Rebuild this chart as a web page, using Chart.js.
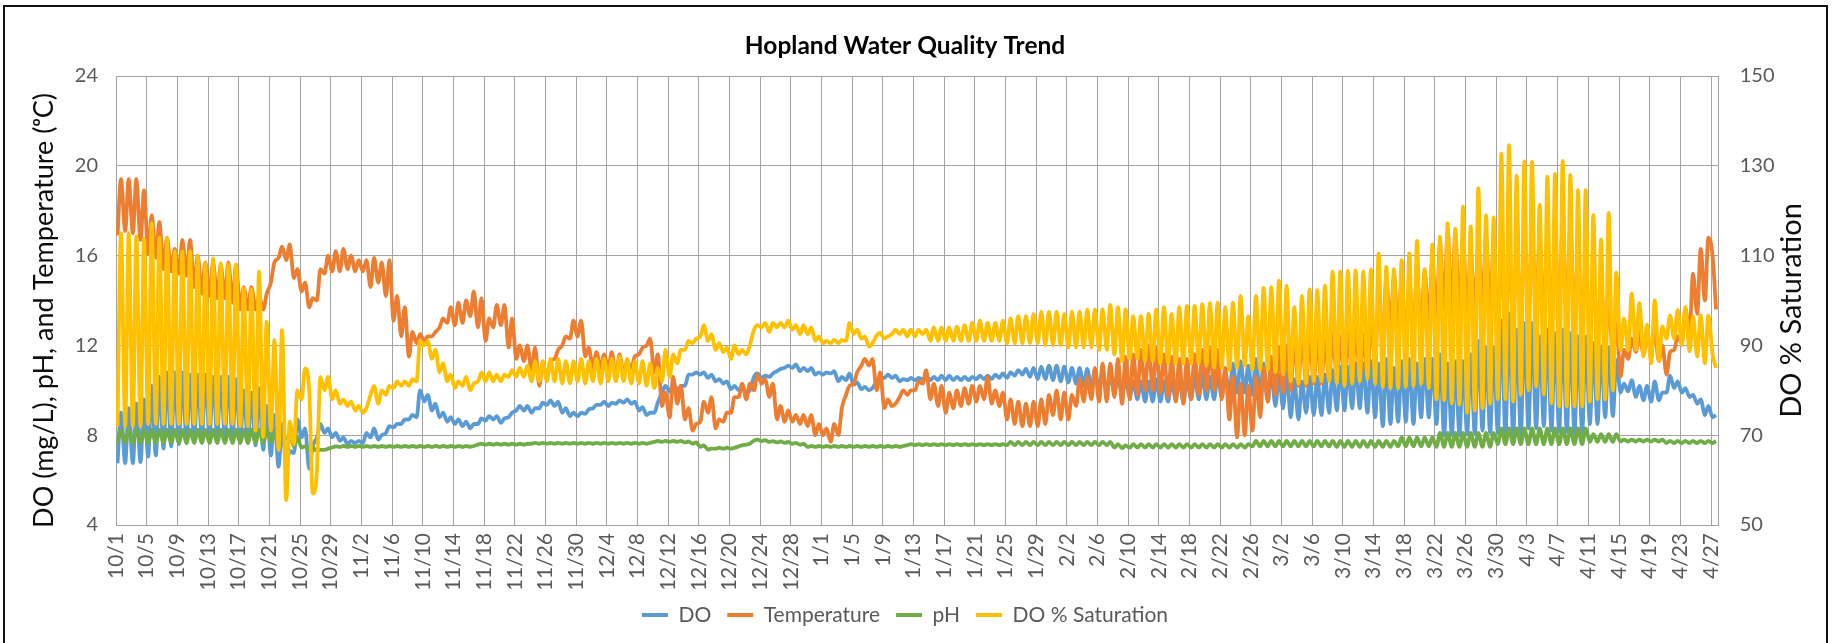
<!DOCTYPE html>
<html>
<head>
<meta charset="utf-8">
<title>Hopland Water Quality Trend</title>
<script src="https://cdn.jsdelivr.net/npm/chart.js@4.4.1/dist/chart.umd.min.js"></script>
<style>
    html, body { margin: 0; padding: 0; background: #fff; overflow: hidden; }
    #wrap { position: relative; width: 1836px; height: 643px; }
    #frame {
        position: absolute; left: 3px; top: 5px; width: 1825px; height: 700px;
        border: 2px solid #111; box-sizing: border-box;
    }
    #chart { position: absolute; left: 0; top: 0; }
</style>
</head>
<body>
<div id="wrap">
    <div id="frame"></div>
    <canvas id="chart" width="1836" height="643"></canvas>
</div>
<script>
    // x axis tick labels, one every 4 days starting 10/1
    const DATE_LABELS = ['10/1','10/5','10/9','10/13','10/17','10/21','10/25','10/29','11/2','11/6',
        '11/10','11/14','11/18','11/22','11/26','11/30','12/4','12/8','12/12','12/16',
        '12/20','12/24','12/28','1/1','1/5','1/9','1/13','1/17','1/21','1/25',
        '1/29','2/2','2/6','2/10','2/14','2/18','2/22','2/26','3/2','3/6',
        '3/10','3/14','3/18','3/22','3/26','3/30','4/3','4/7','4/11','4/15',
        '4/19','4/23','4/27'];

    // daily readings (day 0 = 10/1), early-morning sample and afternoon sample
    const DO_AM = [
        6.75, 6.75, 6.75, 6.8, 7.05, 7.1, 7.4, 7.5, 7.6, 7.65,
        7.75, 7.85, 7.9, 7.9, 7.9, 7.85, 7.8, 7.65, 7.55, 7.35,
        7.1, 6.6, 6.7, 7.2, 7.9, 6.5, 7.9, 8.1, 7.9, 7.75,
        7.6, 7.65, 7.65, 7.9, 7.8, 8.1, 8.35, 8.5, 8.7, 8.8,
        9.5, 9.1, 8.8, 8.6, 8.5, 8.4, 8.3, 8.5, 8.65, 8.7,
        8.55, 8.8, 9.1, 9.1, 9.0, 9.2, 9.35, 9.3, 9.0, 8.85,
        8.85, 8.95, 9.2, 9.35, 9.3, 9.4, 9.45, 9.4, 9.1, 8.9,
        9.0, 9.9, 9.95, 10.0, 10.2, 10.7, 10.7, 10.55, 10.4, 10.3,
        10.05, 10.0, 9.9, 10.6, 10.55, 10.6, 10.85, 11.0, 11.0, 10.85,
        10.85, 10.7, 10.7, 10.75, 10.4, 10.45, 10.25, 10.05, 10.0, 10.4,
        10.55, 10.55, 10.4, 10.45, 10.45, 10.5, 10.45, 10.45, 10.45, 10.45,
        10.45, 10.45, 10.5, 10.5, 10.5, 10.55, 10.55, 10.65, 10.7, 10.6,
        10.5, 10.5, 10.45, 10.4, 10.35, 10.3, 10.2, 10.1, 10.0, 9.9,
        9.85, 9.8, 9.7, 9.6, 9.5, 9.5, 9.5, 9.5, 9.6, 9.5,
        9.6, 9.6, 9.6, 9.6, 9.7, 9.8, 9.9, 9.9, 9.8, 9.7,
        9.5, 9.3, 9.2, 8.8, 8.7, 9.0, 8.9, 8.9, 9.0, 9.1,
        9.1, 9.2, 9.2, 9.0, 8.8, 8.4, 8.5, 8.6, 8.6, 8.5,
        8.8, 8.8, 8.5, 8.0, 8.0, 8.0, 8.05, 8.05, 8.2, 8.1,
        8.1, 8.0, 7.95, 7.95, 8.3, 8.3, 8.4, 8.2, 8.15, 8.15,
        8.1, 8.1, 8.5, 8.5, 8.8, 8.85, 9.9, 9.95, 9.7, 9.55,
        9.5, 9.55, 9.9, 10.1, 9.9, 9.7, 9.4, 8.9, 8.8
    ];
    const DO_PM = [
        9.0, 9.2, 9.4, 9.6, 10.2, 10.6, 10.8, 10.8, 10.8, 10.7,
        10.7, 10.7, 10.6, 10.6, 10.6, 10.5, 10.0, 9.9, 10.1, 9.3,
        8.9, 8.5, 7.3, 8.7, 8.3, 7.5, 8.5, 8.3, 8.1, 7.9,
        7.75, 7.75, 8.1, 8.3, 8.0, 8.4, 8.5, 8.7, 8.9, 10.0,
        9.8, 9.4, 9.0, 8.8, 8.7, 8.6, 8.5, 8.75, 8.85, 8.85,
        8.75, 9.0, 9.3, 9.3, 9.2, 9.45, 9.55, 9.5, 9.2, 9.0,
        9.0, 9.15, 9.35, 9.5, 9.45, 9.55, 9.6, 9.5, 9.25, 9.0,
        9.45, 10.2, 10.3, 10.2, 10.7, 10.8, 10.8, 10.7, 10.5, 10.4,
        10.2, 10.15, 10.0, 10.75, 10.65, 10.75, 10.95, 11.1, 11.15, 11.0,
        11.0, 10.8, 10.8, 10.85, 10.6, 10.75, 10.35, 10.15, 10.1, 10.55,
        10.7, 10.65, 10.5, 10.55, 10.55, 10.6, 10.6, 10.65, 10.65, 10.6,
        10.6, 10.6, 10.65, 10.65, 10.7, 10.75, 10.8, 10.9, 10.95, 11.0,
        11.05, 11.1, 11.1, 11.05, 11.0, 11.0, 10.95, 10.9, 10.8, 10.7,
        10.6, 10.5, 10.4, 10.4, 10.4, 10.5, 10.4, 10.4, 10.5, 10.5,
        10.6, 10.7, 10.6, 10.7, 10.8, 11.2, 11.3, 11.1, 11.4, 11.2,
        10.8, 10.7, 10.8, 10.5, 10.4, 10.6, 10.6, 10.7, 10.9, 11.05,
        11.05, 11.2, 11.2, 11.3, 11.2, 11.4, 11.0, 11.3, 11.4, 11.2,
        11.4, 11.4, 11.6, 11.2, 11.3, 11.3, 11.6, 12.2, 11.9, 11.9,
        13.1, 13.4, 12.7, 13.0, 13.0, 12.4, 12.7, 12.55, 12.7, 12.55,
        12.4, 12.4, 12.1, 11.95, 11.9, 11.35, 10.3, 10.45, 10.2, 10.2,
        10.4, 9.9, 10.65, 10.4, 10.1, 9.8, 9.6, 9.3, 8.9
    ];

    const TEMP_AM = [
        16.9, 17.1, 17.0, 16.7, 16.1, 15.9, 15.4, 15.3, 15.2, 15.1,
        14.6, 14.3, 14.2, 14.1, 14.1, 13.9, 13.6, 13.6, 13.6, 13.6,
        14.8, 15.9, 15.8, 15.0, 14.4, 13.7, 14.0, 15.2, 15.3, 15.3,
        15.4, 15.3, 15.3, 14.6, 14.8, 14.2, 13.1, 12.4, 11.5, 12.1,
        12.2, 12.4, 12.8, 13.0, 12.9, 13.0, 13.3, 12.8, 12.2, 12.8,
        12.9, 11.9, 11.4, 11.3, 10.9, 10.2, 10.6, 11.4, 12.0, 12.3,
        12.4, 11.5, 11.0, 11.0, 11.0, 10.5, 10.7, 11.0, 11.6, 12.0,
        10.8, 9.3, 8.8, 9.4, 8.7, 8.2, 8.6, 9.0, 8.3, 8.6,
        9.0, 9.7, 9.6, 10.0, 10.3, 9.7, 8.7, 8.6, 8.6, 8.5,
        8.4, 8.0, 8.0, 7.7, 8.0, 9.8, 10.3, 11.1, 11.1, 10.0,
        9.2, 9.3, 9.7, 9.8, 10.0, 10.3, 9.6, 9.3, 9.0, 9.2,
        9.3, 9.4, 9.5, 9.6, 9.4, 9.3, 8.7, 8.5, 8.4, 8.4,
        8.4, 8.5, 8.9, 8.7, 8.7, 9.3, 9.5, 9.6, 9.5, 9.5,
        9.7, 9.4, 9.6, 9.8, 10.0, 10.0, 9.9, 9.7, 9.5, 9.4,
        9.6, 9.8, 10.0, 10.0, 9.6, 8.7, 7.9, 8.0, 8.2, 8.8,
        9.5, 9.8, 9.9, 10.0, 10.2, 10.2, 10.3, 10.3, 10.4, 10.5,
        10.4, 10.5, 10.6, 10.6, 11.5, 12.5, 12.8, 12.6, 12.3, 12.8,
        12.7, 13.0, 13.3, 13.6, 13.4, 13.2, 13.2, 13.5, 13.8, 13.5,
        12.8, 13.0, 13.3, 13.7, 14.0, 13.8, 13.6, 13.6, 13.5, 13.3,
        13.2, 13.0, 12.6, 12.5, 12.2, 11.8, 10.6, 11.4, 11.7, 11.6,
        11.7, 11.3, 10.7, 11.8, 12.1, 12.6, 13.4, 14.0, 16.0
    ];
    const TEMP_PM = [
        19.4, 19.4, 19.4, 18.9, 17.8, 17.5, 16.8, 16.3, 16.7, 16.7,
        16.0, 15.7, 15.7, 15.6, 15.7, 15.6, 14.6, 14.6, 14.2, 14.3,
        15.7, 16.4, 16.5, 15.4, 14.8, 14.1, 15.4, 16.0, 16.2, 16.3,
        16.0, 15.8, 15.8, 15.9, 15.7, 15.8, 14.2, 13.7, 12.6, 12.5,
        12.4, 12.6, 13.2, 13.7, 13.9, 14.0, 14.4, 14.1, 13.2, 13.8,
        13.8, 13.2, 12.0, 12.0, 11.9, 11.2, 11.3, 11.8, 12.4, 13.1,
        13.1, 11.9, 11.7, 11.6, 11.7, 11.6, 11.3, 11.5, 11.9, 12.3,
        11.6, 9.9, 10.6, 10.2, 9.2, 8.5, 9.5, 9.7, 8.7, 9.0,
        9.7, 10.3, 10.3, 10.7, 10.5, 10.3, 9.3, 9.1, 8.9, 8.9,
        8.9, 8.5, 8.3, 8.5, 9.2, 10.2, 10.8, 11.4, 11.4, 10.8,
        9.6, 9.4, 10.0, 10.0, 10.4, 10.9, 10.3, 10.2, 9.9, 10.0,
        10.1, 10.2, 10.2, 10.6, 10.0, 9.9, 9.6, 9.5, 9.4, 9.5,
        9.6, 9.8, 10.0, 9.9, 9.8, 10.5, 10.6, 11.0, 11.2, 11.2,
        11.4, 11.5, 11.6, 11.8, 12.0, 11.9, 11.6, 11.5, 11.4, 11.4,
        11.6, 11.8, 11.9, 11.8, 11.0, 10.6, 10.3, 10.2, 10.6, 11.0,
        11.5, 11.9, 12.0, 12.3, 12.5, 12.4, 12.4, 12.3, 12.6, 12.4,
        12.6, 12.8, 12.5, 12.9, 13.9, 14.9, 15.1, 15.0, 14.5, 15.0,
        15.3, 15.8, 16.5, 17.1, 17.0, 16.8, 16.2, 16.5, 16.9, 16.4,
        15.8, 15.7, 15.9, 16.4, 16.8, 16.6, 16.4, 16.5, 17.4, 17.2,
        16.0, 15.5, 15.0, 14.6, 13.7, 13.0, 11.8, 12.3, 12.6, 12.5,
        12.6, 12.0, 11.7, 12.4, 13.6, 15.2, 16.3, 16.8, 13.6
    ];

    const PH_AM = [
        7.65, 7.65, 7.65, 7.65, 7.65, 7.65, 7.65, 7.65, 7.65, 7.65,
        7.65, 7.65, 7.65, 7.65, 7.65, 7.65, 7.65, 7.65, 7.65, 7.65,
        7.7, 7.8, 7.85, 7.5, 7.45, 7.35, 7.3, 7.35, 7.45, 7.48,
        7.48, 7.48, 7.48, 7.48, 7.48, 7.48, 7.48, 7.48, 7.48, 7.48,
        7.48, 7.48, 7.48, 7.48, 7.48, 7.48, 7.48, 7.58, 7.58, 7.58,
        7.58, 7.58, 7.58, 7.58, 7.62, 7.62, 7.62, 7.62, 7.62, 7.62,
        7.62, 7.62, 7.62, 7.62, 7.62, 7.62, 7.62, 7.62, 7.62, 7.62,
        7.7, 7.7, 7.7, 7.7, 7.68, 7.62, 7.48, 7.36, 7.4, 7.4,
        7.4, 7.5, 7.58, 7.76, 7.74, 7.7, 7.68, 7.66, 7.62, 7.58,
        7.48, 7.48, 7.48, 7.48, 7.48, 7.48, 7.48, 7.48, 7.48, 7.48,
        7.48, 7.48, 7.48, 7.56, 7.56, 7.56, 7.56, 7.56, 7.56, 7.56,
        7.56, 7.56, 7.56, 7.56, 7.56, 7.56, 7.56, 7.56, 7.56, 7.56,
        7.56, 7.56, 7.56, 7.56, 7.56, 7.56, 7.56, 7.56, 7.56, 7.56,
        7.45, 7.42, 7.45, 7.45, 7.45, 7.45, 7.45, 7.45, 7.45, 7.45,
        7.45, 7.45, 7.45, 7.45, 7.45, 7.45, 7.45, 7.45, 7.5, 7.5,
        7.5, 7.5, 7.5, 7.5, 7.5, 7.5, 7.5, 7.5, 7.5, 7.48,
        7.48, 7.48, 7.48, 7.48, 7.48, 7.48, 7.48, 7.5, 7.5, 7.5,
        7.5, 7.5, 7.48, 7.48, 7.48, 7.48, 7.48, 7.48, 7.48, 7.48,
        7.6, 7.6, 7.6, 7.6, 7.6, 7.6, 7.6, 7.6, 7.6, 7.6,
        7.6, 7.6, 7.7, 7.7, 7.7, 7.7, 7.72, 7.72, 7.72, 7.72,
        7.72, 7.72, 7.65, 7.65, 7.65, 7.65, 7.65, 7.65, 7.65
    ];
    const PH_PM = [
        8.25, 8.25, 8.25, 8.25, 8.25, 8.25, 8.25, 8.25, 8.25, 8.25,
        8.25, 8.25, 8.25, 8.25, 8.25, 8.25, 8.25, 8.25, 8.25, 8.25,
        8.1, 8.0, 8.0, 7.9, 7.5, 7.45, 7.35, 7.4, 7.5, 7.52,
        7.52, 7.52, 7.52, 7.52, 7.52, 7.52, 7.52, 7.52, 7.52, 7.52,
        7.52, 7.52, 7.52, 7.52, 7.52, 7.52, 7.52, 7.62, 7.62, 7.62,
        7.62, 7.62, 7.62, 7.62, 7.66, 7.66, 7.66, 7.66, 7.66, 7.66,
        7.66, 7.66, 7.66, 7.66, 7.66, 7.66, 7.66, 7.66, 7.66, 7.66,
        7.75, 7.75, 7.75, 7.75, 7.72, 7.68, 7.55, 7.4, 7.44, 7.44,
        7.44, 7.55, 7.62, 7.8, 7.78, 7.74, 7.72, 7.7, 7.66, 7.62,
        7.52, 7.52, 7.52, 7.52, 7.52, 7.52, 7.52, 7.52, 7.52, 7.52,
        7.52, 7.52, 7.52, 7.6, 7.6, 7.6, 7.6, 7.6, 7.6, 7.6,
        7.6, 7.6, 7.6, 7.6, 7.6, 7.6, 7.7, 7.7, 7.7, 7.7,
        7.7, 7.7, 7.7, 7.7, 7.7, 7.7, 7.7, 7.7, 7.7, 7.7,
        7.6, 7.55, 7.6, 7.6, 7.6, 7.6, 7.6, 7.6, 7.6, 7.6,
        7.6, 7.6, 7.6, 7.6, 7.6, 7.6, 7.6, 7.6, 7.75, 7.75,
        7.75, 7.75, 7.75, 7.75, 7.75, 7.75, 7.75, 7.75, 7.75, 7.75,
        7.75, 7.75, 7.75, 7.75, 7.75, 7.75, 7.75, 7.9, 7.9, 7.9,
        7.9, 7.9, 8.1, 8.1, 8.1, 8.1, 8.1, 8.1, 8.1, 8.1,
        8.3, 8.3, 8.3, 8.3, 8.3, 8.3, 8.3, 8.3, 8.3, 8.3,
        8.3, 8.3, 8.05, 8.05, 8.05, 8.05, 7.8, 7.8, 7.8, 7.8,
        7.8, 7.8, 7.75, 7.75, 7.75, 7.75, 7.75, 7.75, 7.75
    ];

    const SAT_AM = [
        72, 72, 72, 72, 72.5, 72.5, 72.5, 72.5, 72.5, 72.5,
        72.5, 72.5, 72.5, 72.5, 72.5, 72.5, 72, 72, 71, 69.6,
        71, 66.7, 55.5, 68, 78, 80, 62, 80, 78, 77,
        76.5, 75.5, 75, 79, 77, 79, 80.5, 81, 81, 82,
        90, 87, 84, 82, 80.5, 81, 80, 82, 82, 82,
        82, 83, 83, 83, 82, 82, 82, 82, 81.5, 81.5,
        82, 81.5, 82, 81.5, 82, 82, 82, 81.5, 81.5, 81,
        80.5, 82, 83, 86, 89, 90.5, 92, 91, 89, 88.5,
        87, 88, 88, 93.5, 94, 93, 94, 94, 93.5, 92.5,
        92.5, 91, 90.5, 90.5, 90.5, 91, 92.5, 91.5, 89.7, 92.2,
        91.5, 92.5, 92.5, 92, 92, 92.5, 91, 91, 91, 91,
        91, 91, 91, 91, 91, 91, 90.5, 90.5, 90.5, 90.5,
        90.5, 90, 90, 90, 89.5, 89.5, 89.5, 89.5, 89, 89,
        88, 86.5, 87, 87, 86.5, 86.5, 86, 86, 86, 86,
        86, 86, 85.5, 85, 85, 84.5, 85, 85.5, 84.5, 84.5,
        84.5, 84, 83.5, 82, 81.5, 81.5, 82, 82, 82, 81.6,
        81, 81.5, 82, 82.5, 81.5, 80.8, 80.5, 80.5, 80.8, 81,
        81.5, 80.5, 78, 77.8, 77.1, 76.8, 75, 75.5, 76, 77,
        78, 78, 77.5, 79, 80, 80.8, 79.1, 77.1, 76.4, 76.4,
        76.4, 76.4, 77.5, 78, 78, 80, 89, 89, 89, 87.5,
        86, 86.5, 91.5, 91.5, 90, 88.7, 87.5, 86, 88
    ];
    const SAT_PM = [
        115, 115, 114.3, 113.8, 117.2, 114, 113.9, 111, 111, 111,
        109.8, 108.3, 109.4, 108.3, 108, 108, 102.7, 102.5, 106.4, 95.3,
        91.2, 93.4, 73, 80, 84.9, 57, 83, 83, 80, 78,
        77.5, 76.5, 76, 81, 80, 81, 82, 82, 82.5, 91,
        91, 89, 86, 83.5, 82, 83, 81.5, 84, 84, 83.5,
        83.5, 84.5, 85, 85.5, 86.5, 86.5, 87, 87, 86.5, 86.5,
        87, 86.5, 87, 87, 87, 87.5, 87, 86.5, 86.5, 86,
        85, 89, 88, 89, 91, 91.5, 94.5, 92.5, 90.5, 89.5,
        90, 89, 90, 94.5, 95, 95, 95, 95.5, 94.5, 94.5,
        94, 92, 91, 91.2, 91.2, 95, 93.5, 92, 90.5, 92.8,
        92, 93.5, 93.5, 93.5, 93.5, 93.5, 94, 94, 94, 94.2,
        94.5, 95, 95.5, 95, 95, 95.5, 96, 96.5, 96.5, 97,
        97.5, 97.5, 97.5, 97, 97.5, 97.5, 98, 98, 98, 99,
        98.5, 98, 96.5, 96.5, 97, 98, 98.5, 97, 98.5, 98.8,
        98.8, 99.2, 99.4, 99.5, 98.5, 99.5, 101, 96.5, 101, 102.8,
        103, 104.4, 103.3, 98.5, 101, 102.5, 102.3, 103.3, 106.5, 106.5,
        106.6, 106.7, 106.5, 107, 110.5, 107.5, 107, 109, 110.5, 113.3,
        107, 112.5, 114.2, 117.2, 116, 120.9, 116.5, 125, 119, 118.5,
        132.7, 134.6, 127.8, 131, 130.9, 121.3, 127.6, 128.2, 131.1, 128,
        124.6, 124.6, 119, 113.6, 119.5, 106.2, 96, 101.5, 99.4, 94.6,
        100, 94.3, 96.7, 97.9, 98.6, 96.5, 96.7, 96.7, 85
    ];

    const LEFT_TITLE = 'DO (mg/L), pH, and Temperature (ᵒC)';
    const RIGHT_TITLE = 'DO % Saturation';

    // two samples per day: early morning and mid afternoon
    function toPoints(am, pm) {
        const pts = [];
        am.forEach((v, d) => {
            pts.push({x: d + 0.2, y: v});
            pts.push({x: d + 0.65, y: pm[d]});
        });
        return pts;
    }

    const FONT = "Lato, 'Liberation Sans', sans-serif";
    Chart.defaults.font.family = FONT;
    Chart.defaults.color = '#595959';

    const GRID = '#a3a3a3';

    // rotated axis titles, both reading bottom to top like the original
    const axisTitles = {
        id: 'axisTitles',
        afterDraw(chart) {
            const ctx = chart.ctx;
            const midY = (chart.chartArea.top + chart.chartArea.bottom) / 2 + 10;
            ctx.save();
            ctx.fillStyle = '#0d0d0d';
            ctx.textAlign = 'center';
            ctx.textBaseline = 'middle';
            [[LEFT_TITLE, 44.5, 27], [RIGHT_TITLE, 1792, 29]].forEach(([text, x, size]) => {
                ctx.save();
                ctx.font = size + 'px ' + FONT;
                ctx.translate(x, midY);
                ctx.rotate(-Math.PI / 2);
                ctx.fillText(text, 0, 0);
                ctx.restore();
            });
            ctx.restore();
        }
    };

    const lineStyle = {
        borderWidth: 3.8,
        pointRadius: 0,
        pointHoverRadius: 0,
        fill: false,
        cubicInterpolationMode: 'monotone'
    };

    new Chart(document.getElementById('chart'), {
        type: 'line',
        data: {
            datasets: [
                Object.assign({label: 'DO', data: toPoints(DO_AM, DO_PM), borderColor: '#5B9BD5', backgroundColor: '#5B9BD5', yAxisID: 'y', order: 3}, lineStyle),
                Object.assign({label: 'Temperature', data: toPoints(TEMP_AM, TEMP_PM), borderColor: '#ED7D31', backgroundColor: '#ED7D31', yAxisID: 'y', order: 2}, lineStyle),
                Object.assign({label: 'pH', data: toPoints(PH_AM, PH_PM), borderColor: '#70AD47', backgroundColor: '#70AD47', yAxisID: 'y', order: 1}, lineStyle),
                Object.assign({label: 'DO % Saturation', data: toPoints(SAT_AM, SAT_PM), borderColor: '#FFC000', backgroundColor: '#FFC000', yAxisID: 'y2', order: 0}, lineStyle)
            ]
        },
        options: {
            responsive: false,
            animation: false,
            events: [],
            layout: { padding: { left: 0, right: 26, top: 6, bottom: 7.5 } },
            plugins: {
                title: {
                    display: true,
                    text: 'Hopland Water Quality Trend',
                    color: '#000',
                    font: { size: 24.5, weight: 'bold' },
                    padding: { top: 25, bottom: 15.6 }
                },
                legend: {
                    position: 'bottom',
                    labels: {
                        usePointStyle: true,
                        pointStyle: 'line',
                        pointStyleWidth: 26,
                        padding: 16,
                        color: '#595959',
                        font: { size: 21 },
                        sort: (a, b) => a.datasetIndex - b.datasetIndex
                    }
                },
                tooltip: { enabled: false }
            },
            scales: {
                x: {
                    type: 'linear',
                    min: 0,
                    max: 209,
                    grid: { color: GRID, lineWidth: 1, drawTicks: false },
                    border: { color: GRID, width: 1 },
                    ticks: {
                        stepSize: 4,
                        includeBounds: false,
                        autoSkip: false,
                        minRotation: 90,
                        maxRotation: 90,
                        padding: 8,
                        color: '#595959',
                        font: { size: 21 },
                        callback: v => DATE_LABELS[v / 4]
                    },
                    afterFit: s => { s.height = 63.5; }
                },
                y: {
                    position: 'left',
                    min: 4,
                    max: 24,
                    grid: { color: GRID, lineWidth: 1, drawTicks: false },
                    border: { color: GRID, width: 1 },
                    ticks: { stepSize: 4, padding: 18, color: '#595959', font: { size: 20 } },
                    afterFit: s => { s.width = 116; }
                },
                y2: {
                    position: 'right',
                    min: 50,
                    max: 150,
                    grid: { drawOnChartArea: false, drawTicks: false },
                    border: { color: GRID, width: 1 },
                    ticks: { stepSize: 20, padding: 21, color: '#595959', font: { size: 20 } },
                    afterFit: s => { s.width = 91.3; }
                }
            }
        },
        plugins: [axisTitles]
    });
</script>
</body>
</html>
